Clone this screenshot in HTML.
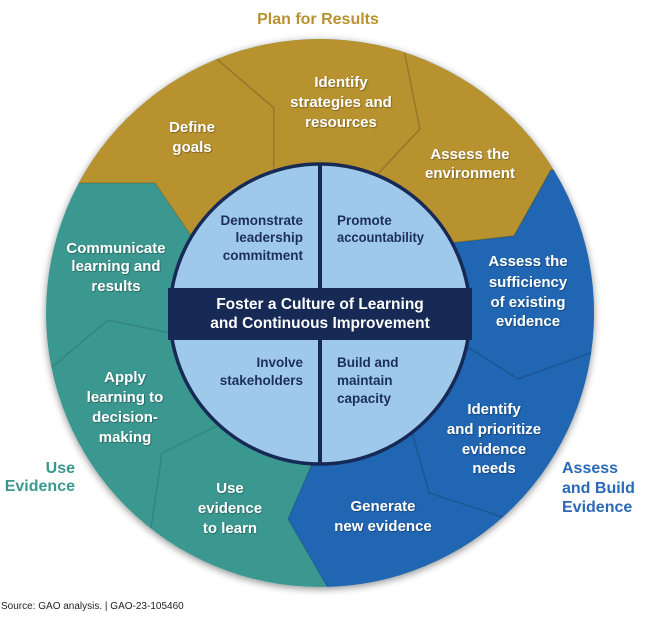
<!DOCTYPE html>
<html><head><meta charset="utf-8"><style>
html,body{margin:0;padding:0;background:#fff;}
svg{display:block;}
.w{font-family:"Liberation Sans",sans-serif;font-weight:bold;font-size:15px;fill:#fff;text-anchor:middle;}
.n{font-family:"Liberation Sans",sans-serif;font-weight:bold;font-size:13.5px;fill:#1c2f5a;}
</style></head><body>
<svg width="650" height="619" viewBox="0 0 650 619" xmlns="http://www.w3.org/2000/svg">
<defs>
<clipPath id="c"><circle cx="320" cy="313" r="274"/></clipPath>
<filter id="sh" x="-10%" y="-10%" width="120%" height="120%"><feGaussianBlur in="SourceAlpha" stdDeviation="4"/><feOffset dy="2"/><feComponentTransfer><feFuncA type="linear" slope="0.45"/></feComponentTransfer><feMerge><feMergeNode/><feMergeNode in="SourceGraphic"/></feMerge></filter>
<filter id="ts"><feDropShadow dx="0.7" dy="0.7" stdDeviation="0.6" flood-color="#000" flood-opacity="0.45"/></filter>
</defs>
<text x="318" y="24" style="font-family:'Liberation Sans',sans-serif;font-weight:bold;font-size:16px;fill:#b8922e;text-anchor:middle">Plan for Results</text>
<circle cx="320" cy="313" r="274" fill="#3b9890" filter="url(#sh)"/>
<g clip-path="url(#c)" stroke="rgba(0,0,0,0.12)" stroke-width="1.5" stroke-linejoin="round">
<polyline fill="none" points="0,368 51,368 108,320 170,333"/>
<polyline fill="none" points="151,619 151,528 162,453 217,426"/>
<polygon fill="#b8922e" points="0,0 217,0 217,59 274,108 274,169 320,313 190,234 155,183 0,183"/>
<polygon fill="#b8922e" points="217,0 405,0 405,54 420,129 378,174 320,313 274,169 274,108 217,59"/>
<polygon fill="#b8922e" points="405,0 650,0 650,170 551,170 514,236 452,243 320,313 378,174 420,129 405,54"/>
<polygon fill="#2066b3" points="452,243 514,236 551,170 650,170 650,353 591,353 518,379 469,348 320,313"/>
<polygon fill="#2066b3" points="469,348 518,379 591,353 650,353 650,517 502,517 429,493 412,433 320,313"/>
<polygon fill="#2066b3" points="412,433 429,493 502,517 650,517 650,619 328,619 328,588 288,519 312,464 320,313"/>
</g>
<circle cx="320" cy="314" r="150" fill="#9fc9eb" stroke="#172a55" stroke-width="3.5"/>
<rect x="168" y="288" width="304" height="52" fill="#172a55"/>
<rect x="318" y="164" width="4" height="300" fill="#172a55"/>
<text x="320" y="309" style="font-family:'Liberation Sans',sans-serif;font-weight:bold;font-size:15.5px;fill:#fff;text-anchor:middle">Foster a Culture of Learning</text>
<text x="320" y="328" style="font-family:'Liberation Sans',sans-serif;font-weight:bold;font-size:15.5px;fill:#fff;text-anchor:middle">and Continuous Improvement</text>
<g class="n">
<text x="303" y="225" text-anchor="end">Demonstrate</text>
<text x="303" y="242" text-anchor="end">leadership</text>
<text x="303" y="260" text-anchor="end">commitment</text>
<text x="303" y="367" text-anchor="end">Involve</text>
<text x="303" y="385" text-anchor="end">stakeholders</text>
</g>
<g class="n">
<text x="337" y="225">Promote</text>
<text x="337" y="242" textLength="87" lengthAdjust="spacingAndGlyphs">accountability</text>
<text x="337" y="367">Build and</text>
<text x="337" y="385">maintain</text>
<text x="337" y="403">capacity</text>
</g>
<g class="w" filter="url(#ts)">
<text x="192" y="132">Define</text><text x="192" y="152">goals</text>
<text x="341" y="87">Identify</text><text x="341" y="107">strategies and</text><text x="341" y="127">resources</text>
<text x="470" y="159">Assess the</text><text x="470" y="178">environment</text>
<text x="116" y="253">Communicate</text><text x="116" y="271">learning and</text><text x="116" y="291">results</text>
<text x="528" y="266">Assess the</text><text x="528" y="287">sufficiency</text><text x="528" y="307">of existing</text><text x="528" y="326">evidence</text>
<text x="494" y="414">Identify</text><text x="494" y="434">and prioritize</text><text x="494" y="454">evidence</text><text x="494" y="473">needs</text>
<text x="125" y="382">Apply</text><text x="125" y="402">learning to</text><text x="125" y="422">decision-</text><text x="125" y="442">making</text>
<text x="230" y="493">Use</text><text x="230" y="513">evidence</text><text x="230" y="533">to learn</text>
<text x="383" y="511">Generate</text><text x="383" y="531">new evidence</text>
</g>
<g style="font-family:'Liberation Sans',sans-serif;font-weight:bold;font-size:16px">
<text x="75" y="473" text-anchor="end" fill="#3b9890">Use</text>
<text x="75" y="491" text-anchor="end" fill="#3b9890">Evidence</text>
<text x="562" y="473" fill="#2b68b8">Assess</text>
<text x="562" y="493" fill="#2b68b8">and Build</text>
<text x="562" y="512" fill="#2b68b8">Evidence</text>
</g>
<text x="1" y="609" style="font-family:'Liberation Sans',sans-serif;font-size:10px;fill:#222">Source: GAO analysis.  |  GAO-23-105460</text>
</svg>
</body></html>
